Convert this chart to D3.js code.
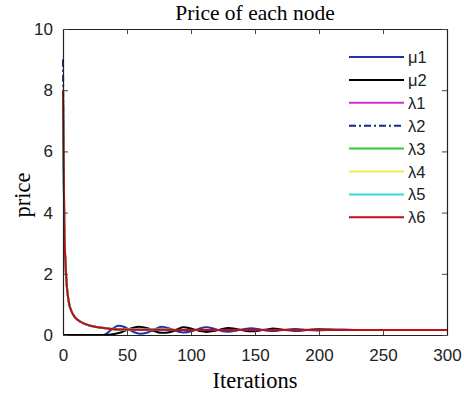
<!DOCTYPE html>
<html>
<head>
<meta charset="utf-8">
<script src="https://cdn.jsdelivr.net/npm/d3@7"></script>
<style>
  body { margin: 0; background: #fff; }
  .tick text { font-family: "Liberation Sans", Arial, sans-serif; font-size: 17px; fill: #222; }
</style>
</head>
<body>
<script>
// iterations sampled for the price curves
var lamIter = [0, 1, 2, 3, 4, 5, 6, 8, 10, 13, 16, 20, 25, 30, 35, 40, 50, 60, 80, 100, 150, 200, 250, 300];
var lamVals = [8, 3.6, 2.3, 1.6, 1.22, 0.98, 0.84, 0.66, 0.55, 0.45, 0.38, 0.32, 0.27, 0.235, 0.21, 0.19, 0.178, 0.172, 0.168, 0.165, 0.163, 0.162, 0.161, 0.16];
var lam2Vals = [9, 3.8, 2.3, 1.6, 1.22, 0.98, 0.84, 0.66, 0.55, 0.45, 0.38, 0.32, 0.27, 0.235, 0.21, 0.19, 0.178, 0.172, 0.168, 0.165, 0.163, 0.162, 0.161, 0.16];

var mu1Iter = [0, 30, 33, 38, 43, 48, 53, 60, 66, 71, 77, 84, 90, 94, 101, 106, 112, 119, 125, 129, 136, 141, 147, 154, 160, 164, 171, 176, 182, 190, 199, 210, 217, 230, 250, 300];
var mu1Vals = [0, 0, 0.02, 0.18, 0.30, 0.26, 0.14, 0.04, 0.08, 0.17, 0.27, 0.2, 0.11, 0.08, 0.13, 0.2, 0.25, 0.19, 0.12, 0.11, 0.15, 0.19, 0.22, 0.18, 0.14, 0.13, 0.16, 0.18, 0.2, 0.17, 0.15, 0.17, 0.18, 0.165, 0.162, 0.16];

var mu2Iter = [0, 33, 40, 45, 52, 59, 66, 72, 77, 84, 89, 94, 101, 107, 112, 119, 124, 129, 136, 142, 147, 154, 159, 164, 172, 182, 192, 200, 215, 240, 300];
var mu2Vals = [0, 0, 0.03, 0.08, 0.2, 0.27, 0.22, 0.12, 0.07, 0.1, 0.18, 0.25, 0.2, 0.13, 0.1, 0.14, 0.19, 0.23, 0.19, 0.14, 0.12, 0.15, 0.18, 0.21, 0.17, 0.14, 0.17, 0.19, 0.165, 0.162, 0.16];

var seriesNames = ["μ1", "μ2", "λ1", "λ2", "λ3", "λ4", "λ5", "λ6"];
var seriesColors = ["#1f35a8", "#000000", "#cc33cc", "#142a8c", "#33cc33", "#eeee44", "#33dddd", "#c00d18"];

var xTicks = [0, 50, 100, 150, 200, 250, 300];
var yTicks = [0, 2, 4, 6, 8, 10];

var series = [
  { iter: mu1Iter, vals: mu1Vals },
  { iter: mu2Iter, vals: mu2Vals },
  { iter: lamIter, vals: lamVals },
  { iter: lamIter, vals: lam2Vals, dash: "7,3,2,3" },
  { iter: lamIter, vals: lamVals },
  { iter: lamIter, vals: lamVals },
  { iter: lamIter, vals: lamVals },
  { iter: lamIter, vals: lamVals }
];

var width = 464;
var height = 394;
var margin = { top: 29, right: 17, bottom: 59, left: 63 };
var w = width - margin.left - margin.right;
var h = height - margin.top - margin.bottom;

var svg = d3.select("body").append("svg").attr("width", width).attr("height", height);
var g = svg.append("g").attr("transform", "translate(" + margin.left + "," + margin.top + ")");

var x = d3.scaleLinear().domain([0, 300]).range([0, w]);
var y = d3.scaleLinear().domain([0, 10]).range([h, 0]);

// data lines
var line = d3.line()
  .x(function (d) { return x(d[0]); })
  .y(function (d) { return y(d[1]); })
  .curve(d3.curveMonotoneX);

series.forEach(function (s, i) {
  var pts = s.iter.map(function (t, j) { return [t, s.vals[j]]; });
  g.append("path")
    .datum(pts)
    .attr("fill", "none")
    .attr("stroke", seriesColors[i])
    .attr("stroke-width", 2)
    .attr("stroke-dasharray", s.dash || null)
    .attr("d", line);
});

// box with inward ticks
g.append("g").attr("transform", "translate(0," + h + ")")
  .call(d3.axisBottom(x).tickValues(xTicks).tickSizeInner(-5).tickSizeOuter(0).tickPadding(14));
g.append("g").call(d3.axisTop(x).tickValues(xTicks).tickSizeInner(-5).tickSizeOuter(0).tickFormat(""));
g.append("g")
  .call(d3.axisLeft(y).tickValues(yTicks).tickSizeInner(-5).tickSizeOuter(0).tickPadding(10));
g.append("g").attr("transform", "translate(" + w + ",0)")
  .call(d3.axisRight(y).tickValues(yTicks).tickSizeInner(-5).tickSizeOuter(0).tickFormat(""));
g.selectAll(".domain").attr("stroke", "#222").attr("stroke-width", 1.2);
g.selectAll(".tick line").attr("stroke", "#444");

// legend
var leg = g.append("g").attr("transform", "translate(" + (349 - margin.left) + "," + (57 - margin.top) + ")");
seriesNames.forEach(function (name, i) {
  var row = leg.append("g").attr("transform", "translate(0," + (i * 22.9) + ")");
  row.append("line")
    .attr("x1", 0).attr("x2", 55)
    .attr("stroke", seriesColors[i])
    .attr("stroke-width", 2)
    .attr("stroke-dasharray", series[i].dash || null);
  row.append("text")
    .attr("x", 59).attr("y", 6)
    .style("font-family", "Liberation Sans, Arial, sans-serif")
    .style("font-size", "16.5px")
    .attr("fill", "#222")
    .text(name);
});

// titles
svg.append("text")
  .attr("x", margin.left + w / 2).attr("y", 20)
  .attr("text-anchor", "middle")
  .style("font-family", "Liberation Serif, Times New Roman, serif")
  .style("font-size", "21.5px")
  .text("Price of each node");

svg.append("text")
  .attr("x", margin.left + w / 2).attr("y", 388)
  .attr("text-anchor", "middle")
  .style("font-family", "Liberation Serif, Times New Roman, serif")
  .style("font-size", "22.5px")
  .text("Iterations");

svg.append("text")
  .attr("transform", "translate(30," + 195 + ") rotate(-90)")
  .attr("text-anchor", "middle")
  .style("font-family", "Liberation Serif, Times New Roman, serif")
  .style("font-size", "22.5px")
  .text("price");
</script>
</body>
</html>
